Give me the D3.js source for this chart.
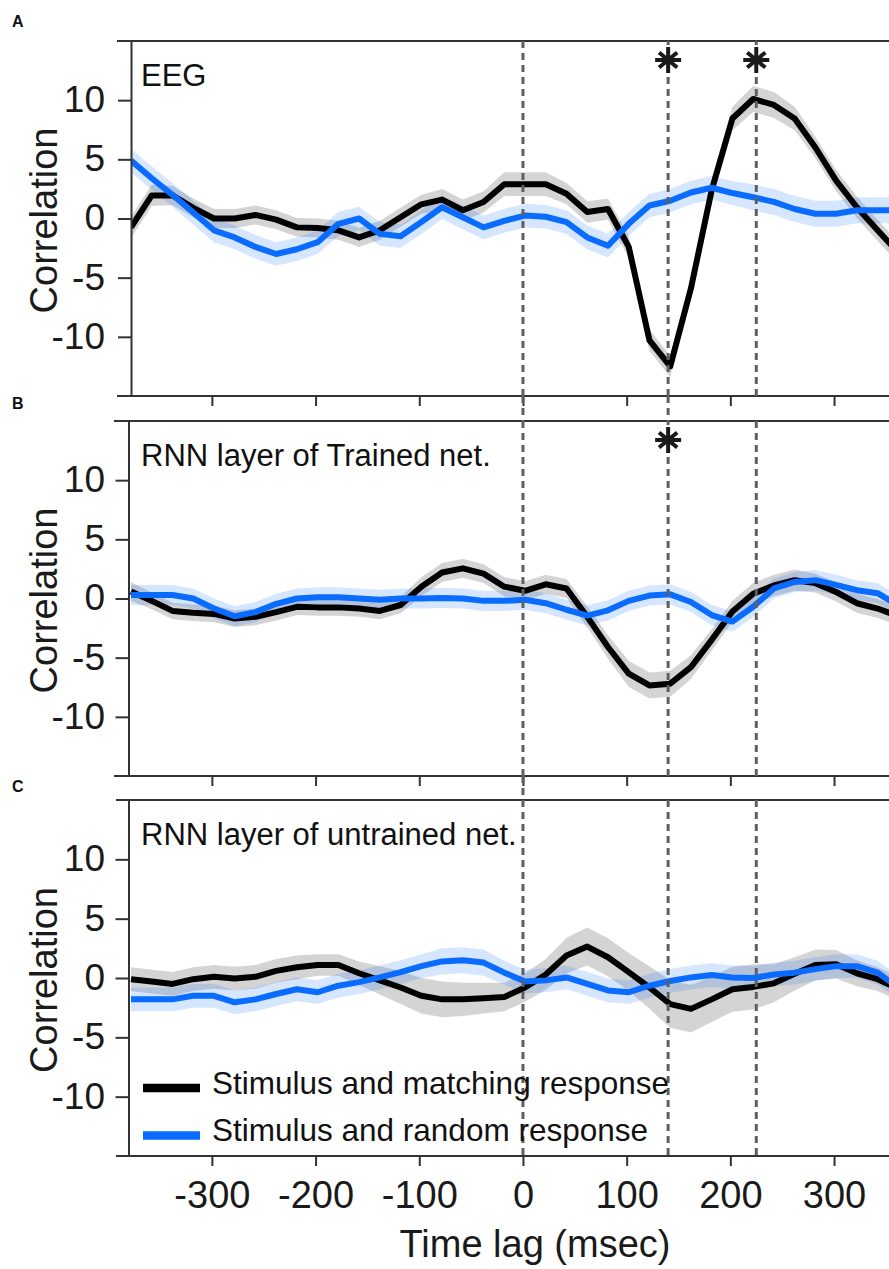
<!DOCTYPE html>
<html>
<head>
<meta charset="utf-8">
<script src="https://cdn.jsdelivr.net/npm/d3@7/dist/d3.min.js"></script>
<style>
  html, body { margin: 0; padding: 0; background: #fff; }
  svg { display: block; font-family: "Liberation Sans", Arial, sans-serif; }
</style>
</head>
<body>
<div id="chart"></div>
<script>
// time lags (msec) of each sample
const lags = [-378, -358, -338, -318, -298, -278, -258, -238, -218, -198,
              -178, -158, -138, -118, -98, -78, -58, -38, -18, 2,
              22, 42, 62, 82, 102, 122, 142, 162, 182, 202,
              222, 242, 262, 282, 302, 322, 342, 362];

// A: EEG
const eegMatch  = [-0.75, 1.95, 1.95, 0.9, 0.0, 0.0, 0.3, -0.1, -0.75, -0.8,
                   -1.0, -1.6, -1.0, 0.1, 1.2, 1.6, 0.7, 1.4, 2.9, 2.9,
                   2.9, 2.1, 0.55, 0.8, -2.4, -10.3, -12.5, -5.9, 2.4, 8.45,
                   10.1, 9.6, 8.45, 6.0, 3.2, 0.95, -1.0, -2.9];
const eegMatchErr = [0.9, 0.9, 0.8, 0.8, 0.8, 0.8, 0.8, 0.8, 0.8, 0.8,
                     0.8, 0.8, 0.8, 0.8, 0.8, 0.9, 0.9, 0.9, 1.0, 1.0,
                     1.0, 0.9, 0.9, 0.9, 0.9, 0.9, 0.9, 0.9, 0.9, 1.0,
                     1.1, 1.1, 1.0, 0.9, 0.9, 0.9, 0.9, 0.9];
const eegRandom = [4.9, 3.4, 2.0, 0.5, -1.0, -1.6, -2.4, -3.0, -2.6, -2.0,
                   -0.45, 0.0, -1.3, -1.5, -0.3, 0.95, 0.1, -0.75, -0.2, 0.25,
                   0.15, -0.3, -1.6, -2.3, -0.45, 1.1, 1.5, 2.2, 2.6, 2.15,
                   1.8, 1.4, 0.8, 0.4, 0.4, 0.7, 0.7, 0.7];
const eegRandomErr = [1.0, 1.0, 1.0, 1.0, 1.0, 1.0, 1.0, 1.0, 1.0, 1.0,
                      1.0, 1.0, 1.0, 1.0, 1.0, 1.0, 1.0, 1.0, 1.0, 1.0,
                      1.0, 1.0, 1.0, 1.0, 1.0, 1.0, 1.0, 1.0, 1.0, 1.0,
                      1.1, 1.1, 1.1, 1.1, 1.1, 1.1, 1.1, 1.1];

// B: RNN layer of trained net
const trainedMatch  = [0.6, -0.2, -1.05, -1.2, -1.3, -1.7, -1.55, -1.15, -0.7, -0.75,
                       -0.75, -0.85, -1.05, -0.55, 1.0, 2.2, 2.55, 2.1, 1.0, 0.65,
                       1.2, 0.85, -1.55, -4.1, -6.35, -7.35, -7.2, -5.8, -3.5, -1.1,
                       0.4, 1.1, 1.55, 1.3, 0.55, -0.4, -0.85, -1.5];
const trainedMatchErr = [0.8, 0.7, 0.7, 0.7, 0.7, 0.7, 0.7, 0.7, 0.7, 0.7,
                         0.7, 0.7, 0.7, 0.7, 0.8, 0.8, 0.8, 0.8, 0.8, 0.8,
                         0.8, 0.8, 0.9, 1.0, 1.1, 1.1, 1.1, 1.0, 0.9, 0.9,
                         0.9, 0.9, 0.9, 0.8, 0.8, 0.8, 0.8, 0.8];
const trainedRandom = [0.3, 0.3, 0.3, 0.0, -0.85, -1.5, -1.15, -0.45, 0.0, 0.1,
                       0.1, 0.0, -0.1, 0.0, 0.0, 0.05, 0.0, -0.2, -0.2, -0.1,
                       -0.4, -0.95, -1.45, -1.0, -0.2, 0.25, 0.35, -0.3, -1.4, -1.95,
                       -0.7, 0.85, 1.4, 1.55, 1.15, 0.7, 0.45, -0.6];
const trainedRandomErr = [0.85, 0.85, 0.85, 0.85, 0.85, 0.85, 0.85, 0.85, 0.85, 0.85,
                          0.85, 0.85, 0.85, 0.85, 0.85, 0.85, 0.85, 0.85, 0.85, 0.85,
                          0.85, 0.85, 0.85, 0.85, 0.85, 0.85, 0.85, 0.85, 0.85, 0.85,
                          0.85, 0.85, 0.85, 0.85, 0.85, 0.85, 0.85, 0.85];

// C: RNN layer of untrained net
const untrainedMatch  = [-0.1, -0.3, -0.5, -0.1, 0.1, -0.05, 0.1, 0.6, 0.9, 1.1,
                         1.1, 0.4, -0.2, -0.8, -1.5, -1.8, -1.8, -1.7, -1.6, -0.8,
                         0.3, 1.9, 2.65, 1.75, 0.5, -0.8, -2.2, -2.6, -1.8, -0.95,
                         -0.75, -0.45, 0.35, 1.1, 1.15, 0.4, -0.1, -0.9];
const untrainedMatchErr = [1.0, 1.0, 1.0, 1.0, 1.0, 1.0, 1.0, 1.0, 1.0, 0.9,
                           0.9, 1.0, 1.2, 1.4, 1.5, 1.5, 1.4, 1.3, 1.2, 1.2,
                           1.3, 1.5, 1.6, 1.6, 1.6, 1.8, 2.0, 2.0, 1.9, 1.9,
                           1.9, 1.6, 1.4, 1.3, 1.2, 1.1, 1.0, 1.0];
const untrainedRandom = [-1.8, -1.8, -1.8, -1.5, -1.5, -2.05, -1.8, -1.35, -0.95, -1.2,
                         -0.65, -0.35, 0.05, 0.5, 1.0, 1.4, 1.5, 1.3, 0.45, -0.3,
                         -0.2, 0.05, -0.5, -1.05, -1.2, -0.65, -0.25, 0.05, 0.25, 0.05,
                         0.0, 0.3, 0.45, 0.75, 1.0, 1.0, 0.45, -0.8];
const untrainedRandomErr = [1.0, 1.0, 1.0, 1.0, 1.0, 1.0, 1.0, 1.0, 1.0, 1.0,
                            1.0, 1.0, 1.0, 1.0, 1.0, 1.1, 1.1, 1.1, 1.0, 1.0,
                            1.0, 1.0, 1.0, 1.0, 1.0, 1.0, 1.0, 1.0, 1.0, 1.0,
                            1.0, 1.0, 1.0, 1.0, 1.0, 1.0, 1.0, 1.0];

const panelLetters = ['A', 'B', 'C'];
const panelTitles  = ['EEG', 'RNN layer of Trained net.', 'RNN layer of untrained net.'];
const xTicks = [-300, -200, -100, 0, 100, 200, 300];
const yTicks = [10, 5, 0, -5, -10];
const markerLags = [0, 140, 225];          // dashed reference lines
const starLags = [[140, 225], [140], []];  // significance stars per panel
const legendLabels = ['Stimulus and matching response', 'Stimulus and random response'];

const COLOR_MATCH  = '#000000';
const COLOR_RANDOM = '#0a6cff';
const COLOR_AXIS   = '#333333';
const COLOR_DASH   = '#5f5f5f';
const COLOR_TEXT   = '#1a1a1a';

const W = 889, H = 1269;

// panel geometry (pixels)
const layout = [
    { top: 41,  bottom: 396,  spine: 131,   lineStart: 117, letterY: 27 },
    { top: 421, bottom: 776,  spine: 128.5, lineStart: 114, letterY: 409 },
    { top: 800, bottom: 1156, spine: 128.5, lineStart: 116, letterY: 792 }
];

const series = [
    { match: eegMatch, matchErr: eegMatchErr, random: eegRandom, randomErr: eegRandomErr },
    { match: trainedMatch, matchErr: trainedMatchErr, random: trainedRandom, randomErr: trainedRandomErr },
    { match: untrainedMatch, matchErr: untrainedMatchErr, random: untrainedRandom, randomErr: untrainedRandomErr }
];

const svg = d3.select('#chart').append('svg')
    .attr('width', W).attr('height', H);

const x = d3.scaleLinear().domain([-378, 353]).range([131, 889]);
const plain = d => String(d);   // ASCII hyphen for negatives, as in the figure

function dashed(sel) {
    return sel.attr('stroke', COLOR_DASH).attr('stroke-width', 3)
        .attr('stroke-dasharray', '7,5');
}

function drawPanel(i) {
    const L = layout[i];
    const S = series[i];
    const y = d3.scaleLinear().domain([-15, 15]).range([L.bottom, L.top]);
    const g = svg.append('g');

    const clipId = 'clip' + i;
    svg.append('clipPath').attr('id', clipId)
        .append('rect')
        .attr('x', L.spine).attr('y', L.top)
        .attr('width', W - L.spine).attr('height', L.bottom - L.top);

    const plot = g.append('g').attr('clip-path', `url(#${clipId})`);

    const band = (vals, err) => d3.area()
        .x((d, k) => x(lags[k]))
        .y0((d, k) => y(vals[k] - err[k]))
        .y1((d, k) => y(vals[k] + err[k]))(lags);
    const line = vals => d3.line()
        .x((d, k) => x(lags[k]))
        .y((d, k) => y(vals[k]))(lags);

    plot.append('path').attr('d', band(S.match, S.matchErr))
        .attr('fill', '#000').attr('fill-opacity', 0.17);
    plot.append('path').attr('d', band(S.random, S.randomErr))
        .attr('fill', COLOR_RANDOM).attr('fill-opacity', 0.17);
    plot.append('path').attr('d', line(S.match))
        .attr('fill', 'none').attr('stroke', COLOR_MATCH)
        .attr('stroke-width', 6).attr('stroke-linejoin', 'round');
    plot.append('path').attr('d', line(S.random))
        .attr('fill', 'none').attr('stroke', COLOR_RANDOM)
        .attr('stroke-width', 6).attr('stroke-linejoin', 'round');

    // frame: top border, left spine, bottom spine
    g.append('line').attr('x1', L.lineStart).attr('x2', W)
        .attr('y1', L.top).attr('y2', L.top)
        .attr('stroke', COLOR_AXIS).attr('stroke-width', 2);

    const yAxis = g.append('g')
        .attr('transform', `translate(${L.spine},0)`)
        .call(d3.axisLeft(y).tickValues(yTicks).tickFormat(plain)
            .tickSize(13).tickSizeOuter(0).tickPadding(L.spine - 118));
    yAxis.select('.domain').attr('stroke', COLOR_AXIS).attr('stroke-width', 2);
    yAxis.selectAll('.tick line').attr('stroke', COLOR_AXIS).attr('stroke-width', 2);
    yAxis.selectAll('.tick text')
        .attr('font-size', 37).attr('fill', COLOR_TEXT)
        .attr('font-family', '"Liberation Sans", Arial, sans-serif')
        .attr('dy', '0.31em');

    const xAxis = g.append('g')
        .attr('transform', `translate(0,${L.bottom})`)
        .call(d3.axisBottom(x).tickValues(xTicks).tickFormat(plain)
            .tickSize(10).tickSizeOuter(0).tickPadding(15));
    xAxis.select('.domain').remove();
    xAxis.selectAll('.tick line').attr('stroke', COLOR_AXIS).attr('stroke-width', 2);
    g.append('line').attr('x1', L.lineStart).attr('x2', W)
        .attr('y1', L.bottom).attr('y2', L.bottom)
        .attr('stroke', COLOR_AXIS).attr('stroke-width', 2);
    if (i < 2) {
        xAxis.selectAll('.tick text').remove();
    } else {
        xAxis.selectAll('.tick text')
            .attr('font-size', 38).attr('fill', COLOR_TEXT)
            .attr('font-family', '"Liberation Sans", Arial, sans-serif');
    }

    // y label
    g.append('text')
        .attr('transform', `translate(57,${(L.top + L.bottom) / 2 + 2}) rotate(-90)`)
        .attr('text-anchor', 'middle')
        .attr('font-size', 38).attr('fill', COLOR_TEXT)
        .text('Correlation');

    // panel title and letter
    g.append('text').attr('x', 141).attr('y', L.top + 45)
        .attr('font-size', 31).attr('fill', '#111')
        .text(panelTitles[i]);
    g.append('text').attr('x', 12).attr('y', L.letterY)
        .attr('font-size', 16).attr('font-weight', 'bold').attr('fill', '#111')
        .text(panelLetters[i]);

    // dashed reference lines
    markerLags.forEach(m => {
        dashed(g.append('line')
            .attr('x1', x(m)).attr('x2', x(m))
            .attr('y1', L.top).attr('y2', L.bottom));
    });

    // significance asterisks
    starLags[i].forEach(m => {
        const cx = x(m), cy = L.top + 19, r = 13;
        const star = g.append('g').attr('transform', `translate(${cx},${cy})`);
        star.append('circle').attr('r', r + 2).attr('fill', '#fff');
        [90, 0, 35, -35].forEach(a => {
            const rad = a * Math.PI / 180;
            const rx = a === 0 ? r : r * 0.85;
            star.append('line')
                .attr('x1', -Math.cos(rad) * rx).attr('y1', -Math.sin(rad) * r)
                .attr('x2', Math.cos(rad) * rx).attr('y2', Math.sin(rad) * r)
                .attr('stroke', COLOR_TEXT).attr('stroke-width', 4);
        });
    });
}

[0, 1, 2].forEach(drawPanel);

// dashed lines continuing through the gaps between panels
const gaps = [[396, 421, [0, 140]], [776, 800, [0]]];
gaps.forEach(([y1, y2, ms]) => {
    ms.forEach(m => {
        dashed(svg.append('line')
            .attr('x1', x(m)).attr('x2', x(m))
            .attr('y1', y1).attr('y2', y2));
    });
});

// legend (panel C)
const legendColors = [COLOR_MATCH, COLOR_RANDOM];
legendLabels.forEach((lab, k) => {
    const ly = 1088 + k * 47.5;
    svg.append('line').attr('x1', 143).attr('x2', 200)
        .attr('y1', ly).attr('y2', ly)
        .attr('stroke', legendColors[k]).attr('stroke-width', 8.5);
    svg.append('text').attr('x', 212).attr('y', ly + 5.5)
        .attr('font-size', 31.5).attr('fill', '#111')
        .text(lab);
});

// x axis label
svg.append('text')
    .attr('x', 535).attr('y', 1257)
    .attr('text-anchor', 'middle')
    .attr('font-size', 38).attr('fill', COLOR_TEXT)
    .text('Time lag (msec)');
</script>
</body>
</html>
